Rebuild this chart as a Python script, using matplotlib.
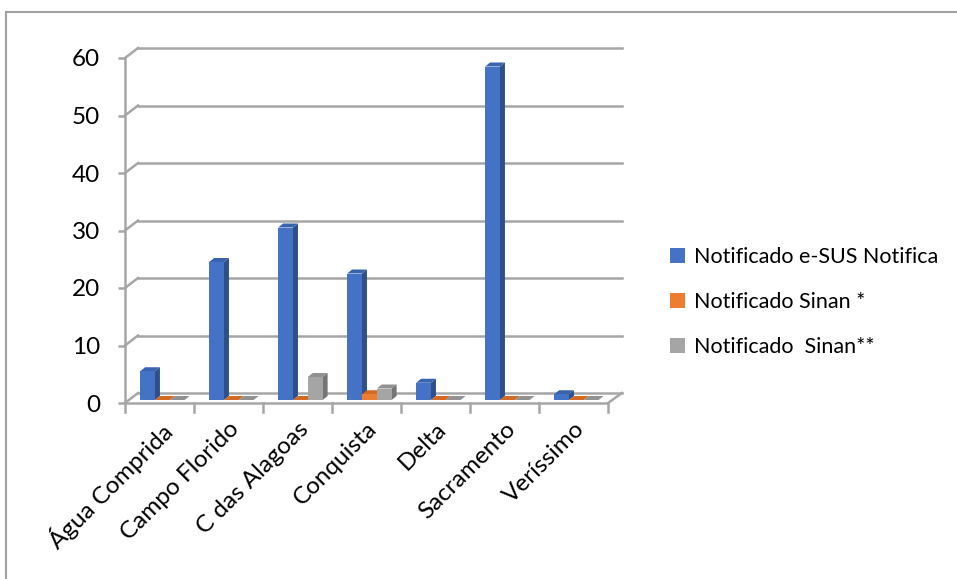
import matplotlib.pyplot as plt
from matplotlib.patches import Polygon, Rectangle, Patch

plt.rcParams['font.family'] = ['Lato', 'DejaVu Sans']

municipios = ["Água Comprida", "Campo Florido", "C das Alagoas", "Conquista",
              "Delta", "Sacramento", "Veríssimo"]
esus = [5, 24, 30, 22, 3, 58, 1]
sinan = [0, 0, 0, 1, 0, 0, 0]
sinan2 = [0, 0, 4, 2, 0, 0, 0]
series_names = ["Notificado e-SUS Notifica", "Notificado Sinan *", "Notificado  Sinan**"]
y_ticks = [0, 10, 20, 30, 40, 50, 60]

# front, side, top shades for each series
colors = [("#4472C4", "#2E4F8C", "#3A63AE"),
          ("#ED7D31", "#A85620", "#D26A24"),
          ("#A5A5A5", "#757575", "#919191")]
grid_c = "#A6A6A6"

fig = plt.figure(figsize=(9.57, 5.79), dpi=100)
W, H = 957, 579
ax = fig.add_axes([125 / W, 1 - 403 / H, 483 / W, 345 / H])
ax.set_xlim(0, len(municipios))
ax.set_ylim(0, 60)

# pixel -> data scale
sx = len(municipios) / 483
sy = 60 / 345

wall_dx, wall_dy = 13 * sx, 10 * sy
ncat = len(municipios)

# back wall gridlines + left wall diagonals
for v in y_ticks:
    ax.plot([wall_dx, ncat + 14 * sx], [v + wall_dy, v + wall_dy],
            color=grid_c, lw=1.8, clip_on=False, zorder=1)
    ax.plot([0, wall_dx], [v, v + wall_dy], color=grid_c, lw=1.8,
            clip_on=False, zorder=1)

# floor right edge
ax.plot([ncat, ncat + 14 * sx], [0, wall_dy], color=grid_c, lw=1.8,
        clip_on=False, zorder=1)

# category ticks under the floor
for i in range(ncat + 1):
    ax.plot([i, i], [0, -9 * sy], color=grid_c, lw=1.8, clip_on=False, zorder=1)

# bars with a small 3D look
base_dx, base_dy = 2 * sx, 3 * sy
dep_dx, dep_dy = 5 * sx, 4 * sy
bw = 0.215
start = 0.19
for i in range(ncat):
    for s, vals in enumerate([esus, sinan, sinan2]):
        v = vals[i]
        x0 = i + start + s * bw + base_dx
        x1 = x0 + bw
        y0 = base_dy
        y1 = v + base_dy
        front, side, top = colors[s]
        ax.add_patch(Polygon([(x1, y0), (x1, y1), (x1 + dep_dx, y1 + dep_dy),
                              (x1 + dep_dx, y0 + dep_dy)], closed=True,
                             facecolor=side, edgecolor='none', zorder=3))
        ax.add_patch(Polygon([(x0, y1), (x1, y1), (x1 + dep_dx, y1 + dep_dy),
                              (x0 + dep_dx, y1 + dep_dy)], closed=True,
                             facecolor=top, edgecolor='none', zorder=3))
        if v > 0:
            ax.add_patch(Rectangle((x0, y0), bw, v, facecolor=front,
                                   edgecolor='none', zorder=3))

for sp in ['top', 'right']:
    ax.spines[sp].set_visible(False)
for sp in ['left', 'bottom']:
    ax.spines[sp].set_color(grid_c)
    ax.spines[sp].set_linewidth(1.8)

ax.set_yticks(y_ticks)
ax.set_yticklabels([str(t) for t in y_ticks], fontsize=17.5)
ax.tick_params(axis='y', length=5, width=1.8, color=grid_c, pad=13)

ax.set_xticks([i + 0.5 for i in range(ncat)])
ax.set_xticklabels(municipios, rotation=45, ha='right', va='top',
                   rotation_mode='anchor', fontsize=17.5)
ax.tick_params(axis='x', length=0, pad=11)

handles = [Patch(facecolor=c[0], edgecolor='none') for c in colors]
fig.legend(handles, series_names, loc='upper left',
           bbox_to_anchor=(651 / W, 1 - 228 / H), frameon=False,
           fontsize=15.5, handlelength=0.7, handleheight=0.7,
           handletextpad=0.4, labelspacing=1.15)

# chart border
fig.patches.append(Rectangle((6 / W, -0.05), 1.1, 1 - 12 / H + 0.05,
                             transform=fig.transFigure, fill=False,
                             edgecolor="#A0A0A0", lw=1.5))

fig.savefig("out.png", dpi=100)
